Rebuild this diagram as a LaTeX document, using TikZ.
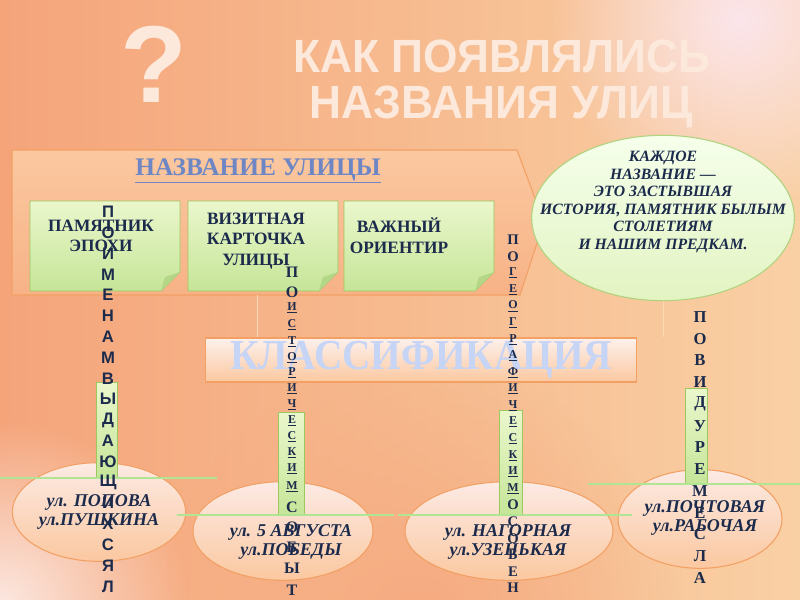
\documentclass[tikz,border=0pt]{standalone}
\usepackage{fontspec}
\setmainfont{Liberation Serif}
\setsansfont{Liberation Sans}
\usetikzlibrary{positioning,fadings,shapes.geometric}

\definecolor{navy}{RGB}{28,43,76}
\definecolor{pale}{RGB}{252,233,219}
\definecolor{bgleft}{RGB}{245,164,122}
\definecolor{bgmid}{RGB}{248,194,126}
\definecolor{bgright}{RGB}{249,208,164}
\definecolor{blush}{RGB}{252,230,236}
\definecolor{cream}{RGB}{252,234,228}
\definecolor{apricot}{RGB}{246,170,128}
\definecolor{peach}{RGB}{251,200,160}
\definecolor{peachdark}{RGB}{247,178,134}
\definecolor{rim}{RGB}{242,160,100}
\definecolor{leaf}{RGB}{234,247,204}
\definecolor{leafdark}{RGB}{198,229,152}
\definecolor{leafrim}{RGB}{155,200,95}
\definecolor{steel}{RGB}{110,135,196}
\definecolor{sky}{RGB}{198,212,245}

\tikzfading[name=softspot, inner color=transparent!0, outer color=transparent!100]

% underlined small letters (link style)
\newcommand{\lnk}[1]{{\fontsize{9}{10}\selectfont\underline{#1}}}

\begin{document}
\begin{tikzpicture}[x=0.75pt,y=0.75pt,yscale=-1,xscale=1,
  headline/.style={text=pale,font=\sffamily\bfseries\fontsize{35}{40}\selectfont,inner sep=0pt,anchor=base},
  banner/.style={top color=peach,bottom color=peachdark,draw=rim,line width=0.8pt},
  bannertitle/.style={text=steel,font=\bfseries\fontsize{19}{22}\selectfont,inner sep=0pt},
  card/.style={top color=leaf,bottom color=leafdark,draw=leafrim,line width=0.6pt},
  cardtext/.style={text=navy,font=\bfseries\fontsize{13}{15.5}\selectfont,align=center,inner sep=0pt},
  idea/.style={ellipse,minimum width=197pt,minimum height=124pt,top color=green!4!white!96!yellow,bottom color=leaf!80!leafdark,draw=leafrim!80!white,line width=0.8pt},
  ideatext/.style={text=navy,font=\bfseries\itshape\fontsize{11.8}{13.2}\selectfont,align=center,inner sep=0pt},
  classbar/.style={minimum width=323pt,minimum height=33pt,inner sep=0pt,top color=cream!70!white,bottom color=peach,draw=rim,line width=0.8pt,text=sky,font=\bfseries\fontsize{32}{34}\selectfont},
  faint/.style={draw=bgmid!60!white,line width=0.6pt},
  street/.style={ellipse,inner sep=0pt,top color=cream,bottom color=peach,draw=rim,line width=0.8pt},
  streettext/.style={text=navy,font=\bfseries\itshape\fontsize{13.5}{14.6}\selectfont,align=center,inner sep=0pt},
  stem/.style={top color=leaf,bottom color=leafdark,draw=leafrim,line width=0.6pt},
  beam/.style={draw=leafrim!80!green!60!white,line width=1.6pt},
  letA/.style={text=navy,font=\sffamily\bfseries\fontsize{12.5}{13}\selectfont,inner sep=0pt},
  letB/.style={text=navy,font=\bfseries\fontsize{12}{13}\selectfont,inner sep=0pt},
  letC/.style={text=navy,font=\bfseries\fontsize{11}{12}\selectfont,inner sep=0pt},
  letD/.style={text=navy,font=\bfseries\fontsize{12.5}{13}\selectfont,inner sep=0pt}]
\useasboundingbox (0,0) rectangle (800,600);
\clip (0,0) rectangle (800,600);

% background
\shade[left color=bgleft,middle color=bgmid,right color=bgright] (0,0) rectangle (800,600);
\fill[blush,path fading=softspot] (740,20) circle [radius=190];
\fill[cream,path fading=softspot] (0,610) circle [radius=190];
\fill[apricot,path fading=softspot] (420,620) circle [radius=260];

% title
\node[headline,font=\sffamily\bfseries\fontsize{82}{82}\selectfont] (quest) at (154,102) {?};
\node[headline] (title1) at (502,72) {\scalebox{0.95}[1]{КАК ПОЯВЛЯЛИСЬ}};
\node[headline] (title2) at (501,118) {\scalebox{0.95}[1]{НАЗВАНИЯ УЛИЦ}};

% street name banner
\draw[banner] (12,150) -- (517,150) -- (544,222) -- (520,295) -- (12,295) -- cycle;
\node[bannertitle] (bantitle) at (258,171) {\underline{НАЗВАНИЕ УЛИЦЫ}};

\foreach \x in {30,188,344} {
  \draw[card] (\x,201) -- (\x+150,201) -- (\x+150,272) -- (\x+131,291) -- (\x,291) -- cycle;
  \fill[leafrim!75] (\x+150,272) -- (\x+131,291) .. controls (\x+133,283) .. (\x+135,277) -- cycle;
}
\node[cardtext] (card1) at (101,236) {ПАМЯТНИК\\ЭПОХИ};
\node[cardtext] (card2) at (256,241) {ВИЗИТНАЯ\\КАРТОЧКА\\УЛИЦЫ};
\node[cardtext] (card3) at (399,236) {ВАЖНЫЙ\\ОРИЕНТИР};

% idea bubble
\node[idea] (idea) at (663,218) {};
\node[ideatext] (ideatxt) at (663,202) {КАЖДОЕ\\НАЗВАНИЕ —\\ЭТО ЗАСТЫВШАЯ\\ИСТОРИЯ, ПАМЯТНИК БЫЛЫМ\\СТОЛЕТИЯМ\\И НАШИМ ПРЕДКАМ.};

% classification
\node[classbar] (class) at (421,360) {\scalebox{0.92}[1]{КЛАССИФИКАЦИЯ}};
\coordinate (bannerfoot) at (257,295);
\draw[faint] (bannerfoot) -- (bannerfoot |- class.north);
\draw[faint] (idea.south) -- (idea.south |- class.north);

% streets
\node[street,minimum width=130pt,minimum height=74pt] (street1) at (99,512) {};
\node[street,minimum width=135pt,minimum height=74pt] (street2) at (283,531) {};
\node[street,minimum width=156pt,minimum height=74pt] (street3) at (509,531) {};
\node[street,minimum width=123pt,minimum height=74pt] (street4) at (700,519) {};

\foreach \x/\w/\t/\y/\l/\r in {107/10.5/382/478/0/217, 291/13/412/515/177/394, 511/11.5/410/515/398/632, 696/11/388/484/588/800} {
  \draw[stem] (\x-\w,\t) rectangle (\x+\w,\y);
  \draw[beam] (\l,\y) -- (\r,\y);
}

\node[streettext] (name1) at (99,512) {ул. ПОПОВА\\ул.ПУШКИНА};
\node[streettext] (name2) at (291,542) {ул. 5 АВГУСТА\\ул.ПОБЕДЫ};
\node[streettext] (name3) at (508,542) {ул. НАГОРНАЯ\\ул.УЗЕНЬКАЯ};
\node[streettext] (name4) at (705,518) {ул.ПОЧТОВАЯ\\ул.РАБОЧАЯ};

% vertical captions
\foreach \l [count=\i] in {П,О,И,М,Е,Н,А,М,В,Ы,Д,А,Ю,Щ,И,Х,С,Я,Л}
  \node[letA] (na\i) at (108,{212+20.8*(\i-1)}) {\l};

\foreach \l/\y [count=\i] in {П/272,О/292,\lnk{И}/308,\lnk{С}/325,\lnk{Т}/342,\lnk{О}/358,\lnk{Р}/373,\lnk{И}/389,\lnk{Ч}/405,\lnk{Е}/421,\lnk{С}/437,\lnk{К}/453,\lnk{И}/469,\lnk{М}/487,С/507,О/527,Б/547,Ы/568,Т/590}
  \node[letB] (nb\i) at (292,\y) {\l};

\foreach \l [count=\i] in {П,О,\lnk{Г},\lnk{Е},\lnk{О},\lnk{Г},\lnk{Р},\lnk{А},\lnk{Ф},\lnk{И},\lnk{Ч},\lnk{Е},\lnk{С},\lnk{К},\lnk{И},\lnk{М},О,С,О,Б,Е,Н}
  \node[letC] (nc\i) at (513,{240+16.57*(\i-1)}) {\l};

\foreach \l [count=\i] in {П,О,В,И,Д,У,Р,Е,М,Е,С,Л,А}
  \node[letD] (nd\i) at (700,{317+21.75*(\i-1)}) {\l};

\end{tikzpicture}
\end{document}
